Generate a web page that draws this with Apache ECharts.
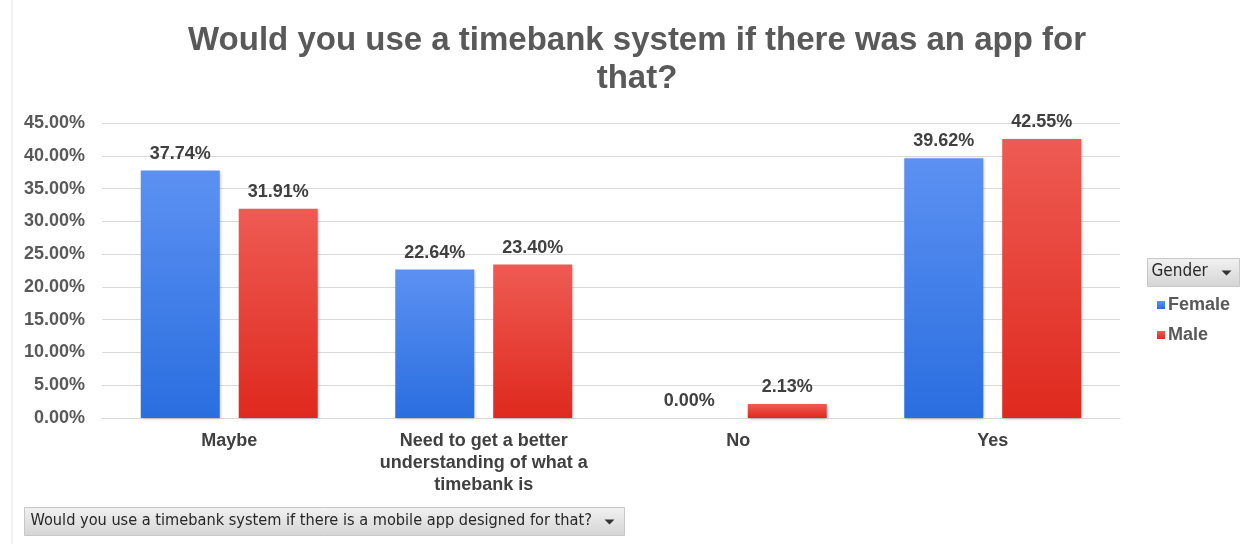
<!DOCTYPE html>
<html>
<head>
<meta charset="utf-8">
<script src="https://cdn.jsdelivr.net/npm/echarts@6/dist/echarts.min.js"></script>
<style>
  html, body { margin: 0; padding: 0; background: #fff; }
  #chart { width: 1250px; height: 544px; }
</style>
</head>
<body>
<div id="chart"></div>
<script>
var categories = ['Maybe', 'Need to get a better\nunderstanding of what a\ntimebank is', 'No', 'Yes']
var female = [37.74, 22.64, 0.0, 39.62]
var male = [31.91, 23.4, 2.13, 42.55]
var yTicks = { min: 0, max: 45, interval: 5 }

var myChart = echarts.init(document.getElementById('chart'))

function grad(top, bottom) {
  return new echarts.graphic.LinearGradient(0, 0, 0, 1, [
    { offset: 0, color: top },
    { offset: 1, color: bottom }
  ])
}

var labelStyle = {
  show: true,
  position: 'top',
  distance: 8,
  color: '#404040',
  fontFamily: 'Liberation Sans',
  fontWeight: 'bold',
  fontSize: 18,
  formatter: function (p) { return p.value.toFixed(2) + '%' }
}

var option = {
  animation: false,
  title: {
    text: 'Would you use a timebank system if there was an app for\nthat?',
    left: 632,
    top: 17,
    textAlign: 'center',
    textStyle: {
      color: '#595959',
      fontFamily: 'Liberation Sans',
      fontWeight: 'bold',
      fontSize: 33,
      lineHeight: 38
    }
  },
  grid: { left: 102, right: 130, top: 123, bottom: 126, containLabel: false },
  legend: {
    orient: 'vertical',
    left: 1152,
    top: 291,
    itemWidth: 8,
    itemHeight: 8,
    itemGap: 12,
    icon: 'rect',
    textStyle: {
      color: '#595959',
      fontFamily: 'Liberation Sans',
      fontWeight: 'bold',
      fontSize: 18,
      padding: [0, 0, 0, -2]
    }
  },
  xAxis: {
    type: 'category',
    data: categories,
    axisTick: { show: false },
    axisLine: { lineStyle: { color: '#d9d9d9' } },
    axisLabel: {
      color: '#404040',
      fontFamily: 'Liberation Sans',
      fontWeight: 'bold',
      fontSize: 18,
      lineHeight: 22,
      margin: 12,
      interval: 0
    }
  },
  yAxis: {
    type: 'value',
    min: yTicks.min,
    max: yTicks.max,
    interval: yTicks.interval,
    axisLine: { show: false },
    axisTick: { show: false },
    splitLine: { lineStyle: { color: '#d9d9d9', width: 1 } },
    axisLabel: {
      color: '#595959',
      fontFamily: 'Liberation Sans',
      fontWeight: 'bold',
      fontSize: 18,
      margin: 17,
      formatter: function (v) { return v.toFixed(2) + '%' }
    }
  },
  series: [
    {
      name: 'Female',
      type: 'bar',
      data: female,
      barWidth: 79,
      barGap: '24%',
      itemStyle: {
        color: grad('#5c91f2', '#2a6ee0'),
        shadowColor: 'rgba(0,0,0,0.25)',
        shadowBlur: 3,
        shadowOffsetX: 1,
        shadowOffsetY: 1
      },
      label: labelStyle
    },
    {
      name: 'Male',
      type: 'bar',
      data: male,
      barWidth: 79,
      itemStyle: {
        color: grad('#ee5b53', '#df291e'),
        shadowColor: 'rgba(0,0,0,0.25)',
        shadowBlur: 3,
        shadowOffsetX: 1,
        shadowOffsetY: 1
      },
      label: labelStyle
    }
  ],
  graphic: [
    {
      type: 'line',
      shape: { x1: 12, y1: 0, x2: 12, y2: 544 },
      style: { stroke: '#e4e4e4', lineWidth: 1 }
    },
    {
      type: 'group',
      left: 1147,
      top: 258,
      children: [
        {
          type: 'rect',
          shape: { x: 0, y: 0, width: 92, height: 28 },
          style: { fill: grad('#f2f2f2', '#d4d4d4'), stroke: '#c8c8c8' }
        },
        {
          type: 'text',
          x: 4,
          y: 5,
          style: { text: 'Gender', fill: '#262626', font: '17px "DejaVu Sans Condensed", "Liberation Sans Narrow", sans-serif' }
        },
        {
          type: 'polygon',
          shape: { points: [[74, 12], [84, 12], [79, 17]] },
          style: { fill: '#333' }
        }
      ]
    },
    {
      type: 'group',
      left: 24,
      top: 507,
      children: [
        {
          type: 'rect',
          shape: { x: 0, y: 0, width: 600, height: 28 },
          style: { fill: grad('#f2f2f2', '#d4d4d4'), stroke: '#c8c8c8' }
        },
        {
          type: 'text',
          x: 6,
          y: 5,
          style: { text: 'Would you use a timebank system if there is a mobile app designed for that?', fill: '#262626', font: '16.2px "DejaVu Sans Condensed", "Liberation Sans Narrow", sans-serif' }
        },
        {
          type: 'polygon',
          shape: { points: [[580, 12], [590, 12], [585, 17]] },
          style: { fill: '#333' }
        }
      ]
    }
  ]
}

option && myChart.setOption(option)
</script>
</body>
</html>
